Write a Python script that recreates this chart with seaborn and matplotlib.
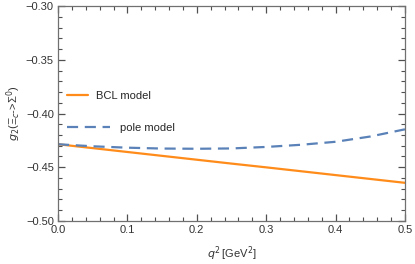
import numpy as np
import pandas as pd
import seaborn as sns
import matplotlib.pyplot as plt
from matplotlib.ticker import MultipleLocator

# data
q2 = [0.0, 0.05, 0.1, 0.15, 0.2, 0.25, 0.3, 0.35, 0.4, 0.45, 0.5]
g2_bcl = [-0.4286, -0.4322, -0.4358, -0.4394, -0.4430, -0.4466,
          -0.4501, -0.4537, -0.4573, -0.4609, -0.4645]
g2_pole = [-0.4286, -0.4305, -0.4318, -0.4326, -0.4328, -0.4325,
           -0.4311, -0.4291, -0.4263, -0.4214, -0.4147]

df = pd.DataFrame({"q2": q2, "BCL model": g2_bcl, "pole model": g2_pole})

sns.set_style("ticks", {"xtick.direction": "in", "ytick.direction": "in"})
plt.rcParams['font.family'] = ['Liberation Sans', 'DejaVu Sans']
plt.rcParams['mathtext.fontset'] = 'dejavusans'

fig = plt.figure(figsize=(4.15, 2.64), dpi=100)
ax = fig.add_axes([0.1398, 0.163, 0.836, 0.814])

sns.lineplot(data=df, x="q2", y="BCL model", ax=ax, color="#ff8c1a",
             linewidth=1.6)
sns.lineplot(data=df, x="q2", y="pole model", ax=ax, color="#5a82b8",
             linewidth=1.6, linestyle=(0, (5, 3)))

ax.set_xlim(0, 0.5)
ax.set_ylim(-0.50, -0.30)
ax.xaxis.set_major_locator(MultipleLocator(0.1))
ax.xaxis.set_minor_locator(MultipleLocator(0.02))
ax.yaxis.set_major_locator(MultipleLocator(0.05))
ax.yaxis.set_minor_locator(MultipleLocator(0.01))
ax.xaxis.set_major_formatter(plt.FuncFormatter(lambda v, p: f"{v:.1f}"))
ax.yaxis.set_major_formatter(plt.FuncFormatter(lambda v, p: f"{v:.2f}".replace("-", "\u2212")))

ax.tick_params(which="both", direction="in", bottom=True, left=True,
               top=True, right=True, color="#505050", labelsize=8,
               labelcolor="#333333", pad=3)
ax.tick_params(which="major", length=5, width=0.9)
ax.tick_params(which="minor", length=3, width=0.8)
for s in ax.spines.values():
    s.set_visible(True)
    s.set_color("#707070")
    s.set_linewidth(0.9)

ax.set_xlabel(r"$q^2\,$[GeV$^2$]", fontsize=8, color="#333333", labelpad=7)
ax.set_ylabel(r"$g_2$(Ξ$_c$->Σ$^0$)", fontsize=8, color="#333333", labelpad=2)

# two separate legend entries, as in the reference
lines = ax.get_lines()
leg1 = ax.legend([lines[0]], ["BCL model"], loc="center left",
                 bbox_to_anchor=(0.026, 0.581), frameon=False, fontsize=8,
                 handlelength=1.9, handletextpad=0.7, borderpad=0,
                 borderaxespad=0)
ax.add_artist(leg1)
ax.legend([lines[1]], ["pole model"], loc="center left",
          bbox_to_anchor=(0.026, 0.433), frameon=False, fontsize=8,
          handlelength=3.9, handletextpad=0.9, borderpad=0, borderaxespad=0)

fig.savefig("out.png", dpi=100)
